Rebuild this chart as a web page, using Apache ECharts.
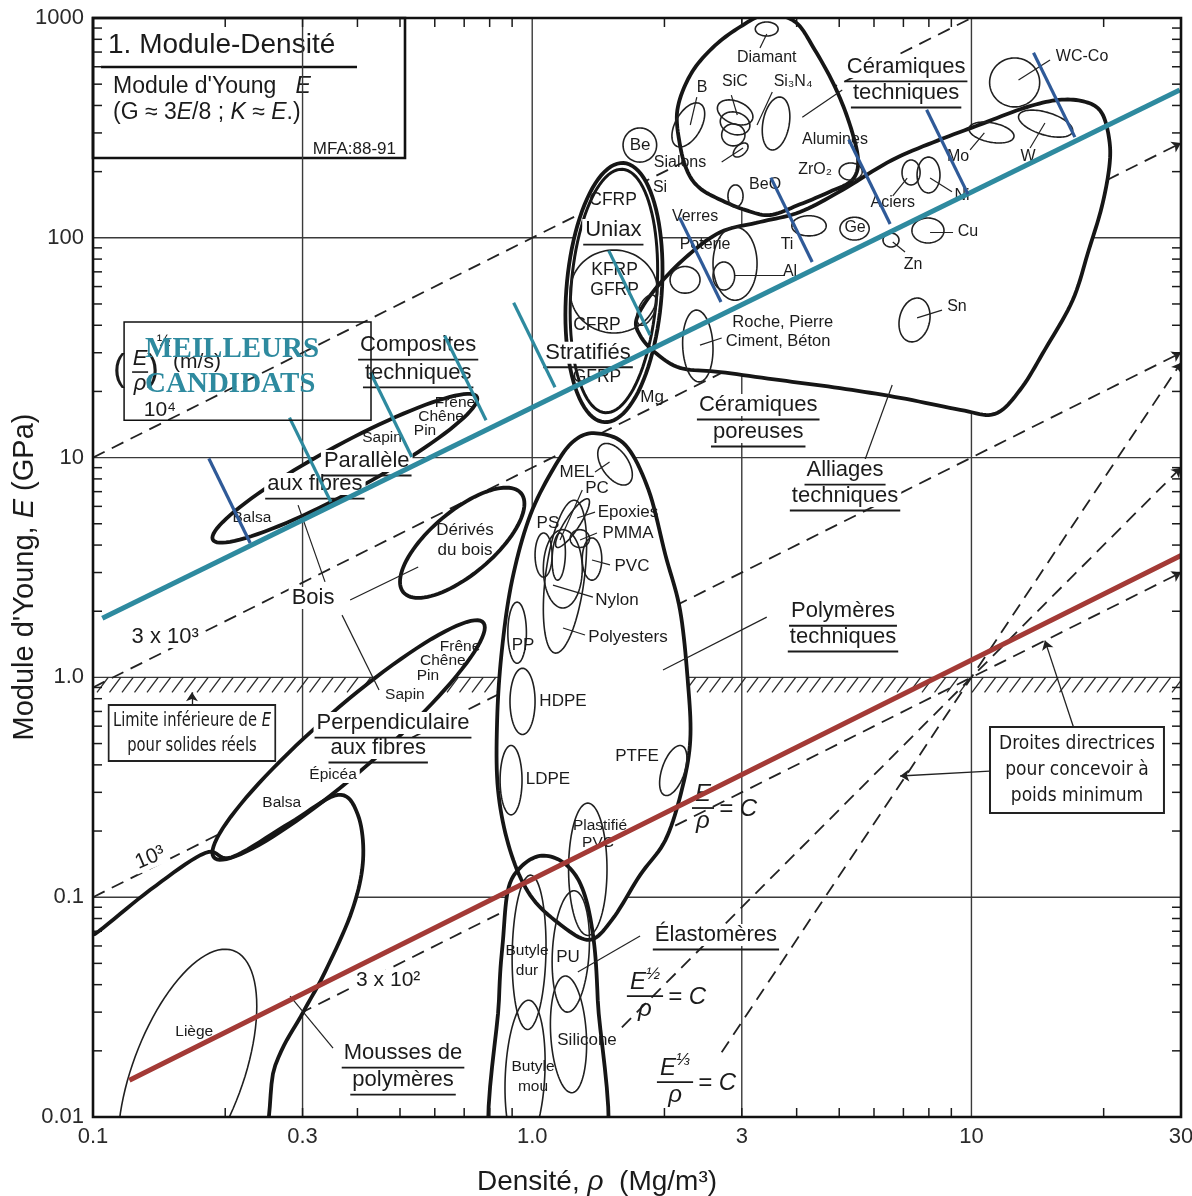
<!DOCTYPE html>
<html>
<head>
<meta charset="utf-8">
<title>Module-Densité</title>
<script src="https://cdn.jsdelivr.net/npm/echarts@6.0.0/dist/echarts.min.js"></script>
<style>
html, body { margin: 0; padding: 0; background: #fff; }
#chart { width: 1192px; height: 1196px; }
</style>
</head>
<body>
<div id="chart"></div>
<script>
// ---------- Axes: density ρ (Mg/m³) vs Young's modulus E (GPa), log–log ----------
const X_RANGE = [0.1, 30];
const Y_RANGE = [0.01, 1000];
const X_TICKS = [0.1, 0.3, 1, 3, 10, 30];
const X_TICK_LABELS = ['0.1', '0.3', '1.0', '3', '10', '30'];
const Y_TICKS = [0.01, 0.1, 1, 10, 100, 1000];
const Y_TICK_LABELS = ['0.01', '0.1', '1.0', '10', '100', '1000'];
const X_GRID = [0.3, 1, 3, 10];
const Y_GRID = [0.1, 1, 10, 100];
const MINOR_STEPS = [2, 3, 4, 5, 6, 7, 8, 9];

// lower bound of E for real solids (hatched band), GPa
const LIMIT_BAND = [0.855, 1.0];

// design guide lines, endpoints [ρ, E]; last flag = arrow at the end
const GUIDE_LINES = [
  [[0.1, 10], [10, 1000], false],      // (E/ρ)^½ = 10⁴ m/s
  [[0.1, 0.9], [30, 270], true],       // 3 x 10³ m/s
  [[0.1, 0.1], [30, 30], true],        // 10³ m/s
  [[0.1, 0.01], [30, 3], true],        // E/ρ = C  (3 x 10² m/s)
  [[1.6, 0.0256], [30, 9], true],      // E^½/ρ = C
  [[2.7, 0.0197], [30, 27], true]      // E^⅓/ρ = C
];

// ---------- Material class envelopes ----------
// ellipses: [name, ρ range, E range, tilt in degrees (90 = upright, <90 rising, >90 falling)]
const ENVELOPE_ELLIPSES = [
  ['Bois parallèle aux fibres', [0.187, 0.75], [4.1, 19.5], 21],
  ['Bois perpendiculaire aux fibres', [0.187, 0.78], [0.148, 1.82], 20],
  ['Dérivés du bois', [0.5, 0.96], [2.3, 7.3], 45],
  ['Composites uniax', [1.19, 1.98], [14.5, 219], 80],
  ['Composites stratifiés', [1.22, 1.93], [16, 205], 80]
];
// free outlines, [ρ, E] points
const POLYMERS_ENV = [[1.40, 12.9], [1.63, 11.4], [1.84, 7.13], [2.01, 3.61], [2.17, 2.03], [2.26, 0.97],
  [2.29, 0.52], [2.19, 0.307], [2.01, 0.182], [1.76, 0.126], [1.52, 0.079], [1.35, 0.064], [1.16, 0.075],
  [0.99, 0.102], [0.89, 0.164], [0.836, 0.307], [0.832, 0.64], [0.853, 1.33], [0.90, 2.77], [0.99, 5.48],
  [1.13, 9.25], [1.25, 12.0]];
const ELASTOMERS_ENV = [[0.823, 0.006], [0.84, 0.034], [0.858, 0.064], [0.881, 0.108], [0.938, 0.136],
  [1.04, 0.154], [1.17, 0.145], [1.29, 0.114], [1.37, 0.071], [1.41, 0.034], [1.44, 0.006]];
const FOAMS_ENV = [[0.094, 0.006], [0.094, 0.066], [0.101, 0.068], [0.135, 0.108], [0.18, 0.159],
  [0.207, 0.152], [0.281, 0.218], [0.361, 0.292], [0.401, 0.237], [0.412, 0.148], [0.389, 0.087],
  [0.338, 0.046], [0.301, 0.030], [0.26, 0.0172], [0.222, 0.006]];
const CERAMICS_ENV = [[2.14, 381], [2.29, 550], [2.57, 730], [2.97, 910], [3.42, 1040], [3.97, 960],
  [4.4, 715], [4.89, 486], [5.29, 326], [5.52, 226], [5.35, 183], [4.76, 162], [4.07, 142], [3.48, 127],
  [3.05, 134], [2.68, 149], [2.41, 168], [2.26, 199], [2.17, 264]];
const ALLOYS_ENV = [[1.73, 43], [1.9, 58], [2.23, 81], [2.68, 106], [3.3, 118], [4.07, 131], [5.08, 165],
  [6.6, 226], [8.57, 282], [10.4, 326], [13.2, 390], [15.8, 424], [18.2, 415], [19.8, 370], [20.6, 279],
  [20.6, 210], [19.8, 138], [18.5, 88], [17, 52], [14.7, 31], [12.9, 20.3], [11.3, 15.8], [9.42, 16.5],
  [6.88, 18.7], [5.02, 20.7], [3.67, 22.5], [2.68, 24.5], [2.17, 25.6], [1.9, 30.2], [1.76, 36]];

// ---------- Individual materials: [name, ρ range, E range, tilt°] ----------
const MATERIALS = [
  ['MEL', [1.41, 1.69], [7.5, 11.6], 120],
  ['PC', [1.13, 1.35], [3.9, 6.5], 30],
  ['Polyesters', [1.06, 1.33], [1.29, 6.4], 65],
  ['Nylon', [1.06, 1.30], [2.07, 4.7], 90],
  ['PS', [1.015, 1.11], [2.86, 4.54], 90],
  ['Epoxies', [1.11, 1.19], [2.77, 4.54], 80],
  ['PMMA', [1.22, 1.35], [3.9, 4.7], 90],
  ['PVC', [1.30, 1.44], [2.77, 4.31], 90],
  ['PP', [0.88, 0.97], [1.16, 2.2], 90],
  ['HDPE', [0.89, 1.015], [0.55, 1.1], 90],
  ['LDPE', [0.845, 0.948], [0.237, 0.49], 90],
  ['PTFE', [1.95, 2.25], [0.29, 0.49], 60],
  ['PVC plastifié', [1.21, 1.48], [0.067, 0.268], 90],
  ['Butyle dur', [0.90, 1.075], [0.025, 0.126], 85],
  ['Butyle mou', [0.867, 1.07], [0.0071, 0.034], 80],
  ['PU', [1.11, 1.35], [0.03, 0.107], 80],
  ['Silicone', [1.10, 1.33], [0.0129, 0.0438], 100],
  ['Liège', [0.114, 0.236], [0.0042, 0.058], 57],
  ['KFRP / GFRP', [1.22, 1.93], [36.9, 88], 90],
  ['Diamant', [3.22, 3.63], [828, 959], 90],
  ['B', [2.08, 2.47], [259, 411], 60],
  ['SiC', [2.64, 3.18], [326, 424], 110],
  ['SiC (2)', [2.68, 3.13], [294, 374], 100],
  ['SiC (3)', [2.7, 3.05], [262, 330], 90],
  ['Sialons', [2.87, 3.1], [233, 270], 60],
  ['Si₃N₄', [3.34, 3.86], [251, 437], 75],
  ['ZrO₂', [5.0, 5.64], [183, 219], 90],
  ['Be', [1.61, 1.92], [221, 316], 90],
  ['BeO', [2.79, 3.02], [138, 174], 90],
  ['Verres', [2.06, 2.41], [56, 74], 90],
  ['Poterie', [2.58, 3.25], [52, 112], 90],
  ['Roche, Ciment', [2.2, 2.58], [22.1, 46.9], 95],
  ['Al', [2.58, 2.89], [57.9, 77.6], 90],
  ['Mg', [1.73, 1.92], [40, 55], 60],
  ['Ti', [3.9, 4.67], [102, 126], 90],
  ['Ge', [5.02, 5.85], [97.7, 124], 90],
  ['Zn', [6.29, 6.84], [90.8, 105], 90],
  ['Cu', [7.32, 8.66], [94.7, 123], 90],
  ['Aciers', [6.95, 7.64], [174, 226], 90],
  ['Ni', [7.52, 8.48], [160, 233], 90],
  ['Mo', [9.87, 12.5], [270, 336], 110],
  ['W', [12.8, 17], [287, 381], 120],
  ['WC-Co', [11, 14.3], [394, 658], 90],
  ['Sn', [6.84, 8.05], [33.6, 53.2], 80]
];

// leader lines from names to their materials, [ρ, E] ends
const LEADERS = [
  [[0.293, 6.08], [0.3375, 2.72]], [[0.369, 1.92], [0.448, 0.876]], [[0.385, 2.25], [0.55, 3.18]],
  [[0.352, 0.0206], [0.281, 0.0355]], [[3.42, 1.88], [1.985, 1.08]], [[5.72, 9.75], [6.6, 21.4]],
  [[1.76, 0.0666], [1.27, 0.0457]], [[2.41, 32.5], [2.7, 35]], [[2.89, 67.7], [3.76, 67.7]],
  [[8.05, 106], [9.08, 106]], [[7.52, 43.2], [8.57, 46.9]], [[6.62, 95.7], [7.06, 86.2]],
  [[12.8, 522], [15.1, 644]], [[14.7, 333], [13.6, 256]], [[10.7, 300], [9.93, 251]],
  [[7.14, 187], [6.62, 155]], [[8.05, 187], [9.03, 162]], [[5.08, 470], [4.12, 354]],
  [[3.42, 846], [3.3, 730]], [[2.37, 437], [2.29, 326]], [[2.84, 446], [2.93, 362]],
  [[3.52, 461], [3.25, 326]], [[2.7, 221], [3.02, 256]], [[1.39, 8.6], [1.5, 9.55]],
  [[1.3, 7.12], [1.157, 4.22]], [[1.39, 5.65], [1.265, 5.31]], [[1.404, 4.54], [1.285, 4.22]],
  [[1.503, 3.25], [1.368, 3.42]], [[1.375, 2.32], [1.115, 2.63]], [[1.319, 1.559], [1.175, 1.678]]
];
const ARROWS = [
  [[0.168, 0.72], [0.168, 0.855]],
  [[11.0, 0.375], [6.88, 0.356]],
  [[17.1, 0.589], [14.7, 1.47]]
];

// ---------- Highlighted selection line and its hatch marks ----------
const TEAL_LINE = [[0.105, 1.86], [29.8, 470]];
const RED_LINE = [[0.121, 0.0147], [30, 3.59]];
const SELECTION_MARKS = [[0.228, 4.09, 'n'], [0.348, 6.28, 't'], [0.532, 10.07, 't'], [0.785, 14.8, 't'],
  [1.127, 20.9, 't'], [1.855, 36.1, 't'], [2.69, 51, 'n'], [4.34, 77.6, 'n'], [6.53, 115.6, 'n'],
  [9.82, 158, 'n'], [17.2, 287, 'n']];

// ---------- Text annotations: [text, ρ, E, size, flags] (u underline, b blank background, r rotated) ----------
const LABELS = [
  ['Composites', 0.55, 32.5, 22, 'ub'], ['techniques', 0.55, 24.3, 22, 'ub'],
  ['Parallèle', 0.42, 9.65, 22, 'ub'], ['aux fibres', 0.32, 7.58, 22, 'ub'],
  ['Bois', 0.317, 2.30, 22, 'b'],
  ['Perpendiculaire', 0.482, 0.62, 22, 'ub'], ['aux fibres', 0.446, 0.4775, 22, 'ub'],
  ['Mousses de', 0.508, 0.01955, 22, 'ub'], ['polymères', 0.508, 0.01473, 22, 'ub'],
  ['Polymères', 5.1, 2.0, 22, 'ub'], ['techniques', 5.1, 1.527, 22, 'ub'],
  ['Alliages', 5.155, 8.78, 22, 'ub'], ['techniques', 5.155, 6.69, 22, 'ub'],
  ['Céramiques', 3.27, 17.35, 22, 'ub'], ['poreuses', 3.27, 13.08, 22, 'ub'],
  ['Élastomères', 2.62, 0.0673, 22, 'ub'],
  ['Céramiques', 7.1, 599, 22, 'ub'], ['techniques', 7.1, 456, 22, 'ub'],
  ['Uniax', 1.53, 108.5, 22, 'ub'], ['Stratifiés', 1.34, 30, 22, 'ub'],
  ['Frêne', 0.667, 17.7, 15.5, ''], ['Chêne', 0.62, 15.3, 15.5, ''], ['Pin', 0.57, 13.2, 15.5, ''],
  ['Sapin', 0.455, 12.3, 15.5, ''], ['Balsa', 0.23, 5.31, 15.5, ''],
  ['Dérivés', 0.703, 4.68, 17, ''], ['du bois', 0.703, 3.80, 17, ''],
  ['Frêne', 0.685, 1.375, 15.5, ''], ['Chêne', 0.626, 1.187, 15.5, ''], ['Pin', 0.579, 1.015, 15.5, ''],
  ['Sapin', 0.513, 0.832, 15.5, ''], ['Épicéa', 0.352, 0.36, 15.5, 'b'], ['Balsa', 0.269, 0.268, 15.5, ''],
  ['Liège', 0.17, 0.0244, 15.5, ''],
  ['MEL', 1.265, 8.6, 17, ''], ['PC', 1.404, 7.27, 17, ''], ['PS', 1.086, 5.04, 17, ''],
  ['Epoxies', 1.652, 5.65, 17, ''], ['PMMA', 1.652, 4.54, 17, ''], ['PVC', 1.687, 3.21, 17, ''],
  ['Nylon', 1.56, 2.25, 17, ''], ['Polyesters', 1.652, 1.527, 17, ''], ['PP', 0.953, 1.404, 17, ''],
  ['HDPE', 1.175, 0.781, 17, ''], ['LDPE', 1.086, 0.345, 17, ''], ['PTFE', 1.732, 0.4388, 17, ''],
  ['Plastifié', 1.427, 0.2109, 15.5, ''], ['PVC', 1.412, 0.1765, 15.5, ''],
  ['Butyle', 0.973, 0.0569, 15.5, ''], ['dur', 0.973, 0.0462, 15.5, ''], ['PU', 1.206, 0.0534, 17, ''],
  ['Silicone', 1.333, 0.0224, 17, ''], ['Butyle', 1.004, 0.01689, 15.5, ''], ['mou', 1.004, 0.0137, 15.5, ''],
  ['Roche, Pierre', 3.72, 41.4, 16.5, ''], ['Ciment, Béton', 3.63, 33.6, 16.5, ''], ['Mg', 1.874, 18.87, 17, ''],
  ['CFRP', 1.528, 148.6, 17.5, ''], ['KFRP', 1.54, 71.4, 17.5, ''], ['GFRP', 1.54, 57.9, 17.5, ''],
  ['CFRP', 1.404, 40.1, 17.5, ''], ['GFRP', 1.404, 23.3, 17.5, ''],
  ['Diamant', 3.42, 658, 16, ''], ['B', 2.435, 480, 16, ''], ['SiC', 2.894, 511, 16, ''],
  ['Si₃N₄', 3.925, 511, 16, ''], ['Alumines', 4.89, 279, 16, ''], ['ZrO₂', 4.405, 203.5, 16, ''],
  ['Be', 1.76, 264, 17, ''], ['Sialons', 2.17, 221, 16, ''], ['Si', 1.954, 168.5, 16, ''],
  ['BeO', 3.39, 174, 16, ''], ['Verres', 2.348, 124.4, 16, ''], ['Poterie', 2.474, 92.7, 16, ''],
  ['Ti', 3.803, 92.7, 16, ''], ['Al', 3.864, 69.9, 16, ''], ['Ge', 5.433, 110.8, 16, ''],
  ['Zn', 7.36, 75.2, 16, ''], ['Cu', 9.82, 106.3, 16, ''], ['Aciers', 6.62, 144, 16, ''],
  ['Ni', 9.52, 155, 16, ''], ['Mo', 9.32, 233, 16, ''], ['W', 13.45, 233, 16, ''],
  ['WC-Co', 17.86, 665, 16, ''], ['Sn', 9.27, 48.4, 16, ''],
  ['3 x 10³', 0.146, 1.527, 22, 'b'], ['10³', 0.135, 0.151, 21, 'br'], ['3 x 10²', 0.47, 0.042, 21, 'b'],
  ['10⁴', 0.142, 16.5, 21, '']
];
// E^n/ρ = C formulas: [exponent, ρ, E] at the fraction bar centre
const FORMULAS = [['', 2.448, 0.2545], ['½', 1.806, 0.0355], ['⅓', 2.114, 0.01442]];
const SPEED_LABEL_AT = [0.128, 24.5];
const LIMIT_NOTE_AT = [0.168, 0.558];
const GUIDE_NOTE_AT = [17.39, 0.379];
const CANDIDATES_BOX = [[0.1177, 41.4], [0.4295, 14.8]];
const CANDIDATES_TEXT_AT = [[0.1314, 30.9], [0.1314, 21.4]];

// ---------- styles ----------
const SANS = '"Liberation Sans", Arial, sans-serif';
const NARROW = '"Liberation Sans Narrow", "DejaVu Sans Condensed", sans-serif';
const SERIF = '"Liberation Serif", "Times New Roman", serif';
const INK = '#1b1b1b';
const TEAL = '#2e8a9f';
const NAVY = '#2f5a98';
const RED = '#a33a36';

const LOG = Math.log10;
const MCTX = document.createElement('canvas').getContext('2d');
function textW(font, s) { MCTX.font = font; return MCTX.measureText(s).width; }
function pt(api, p) { return api.coord([LOG(p[0]), LOG(p[1])]); }

function ellipsePts(api, rho, E, tilt) {
  const x0 = LOG(rho[0]), x1 = LOG(rho[1]), y0 = LOG(E[0]), y1 = LOG(E[1]);
  const cx = (x0 + x1) / 2, rx = (x1 - x0) / 2, cy = (y0 + y1) / 2, ry = (y1 - y0) / 2;
  const d = tilt * Math.PI / 180, out = [];
  for (let k = 0; k < 96; k++) {
    const t = 2 * Math.PI * k / 96;
    out.push(api.coord([cx + rx * Math.cos(t), cy + ry * Math.cos(t - d)]));
  }
  return out;
}
// closed Catmull–Rom curve through pixel points
function smoothClosed(P) {
  const out = [], n = P.length, seg = 10;
  for (let i = 0; i < n; i++) {
    const p0 = P[(i - 1 + n) % n], p1 = P[i], p2 = P[(i + 1) % n], p3 = P[(i + 2) % n];
    for (let s = 0; s < seg; s++) {
      const t = s / seg, t2 = t * t, t3 = t2 * t;
      out.push([0, 1].map(k => 0.5 * (2 * p1[k] + (-p0[k] + p2[k]) * t +
        (2 * p0[k] - 5 * p1[k] + 4 * p2[k] - p3[k]) * t2 + (-p0[k] + 3 * p1[k] - 3 * p2[k] + p3[k]) * t3)));
    }
  }
  return out;
}

const ENVELOPES = ENVELOPE_ELLIPSES.map(e => ({ kind: 'ellipse', rho: e[1], E: e[2], tilt: e[3] }))
  .concat([POLYMERS_ENV, ELASTOMERS_ENV, FOAMS_ENV, CERAMICS_ENV, ALLOYS_ENV].map(p => ({ kind: 'outline', pts: p })));

function envelopePts(api, e) {
  if (e.kind === 'ellipse') return ellipsePts(api, e.rho, e.E, e.tilt);
  return smoothClosed(e.pts.map(p => pt(api, p)));
}

function tickLabel(v, ticks, labels) {
  for (let i = 0; i < ticks.length; i++) if (Math.abs(LOG(ticks[i]) - v) < 1e-6) return labels[i];
  return '';
}

function txt(x, y, text, font, align, vAlign, extra) {
  return { type: 'text', x: x, y: y, style: Object.assign({
    text: text, font: font, fill: INK, align: align, verticalAlign: vAlign,
    textAlign: align, textVerticalAlign: vAlign
  }, extra || {}) };
}

function renderGrid(params, api) {
  const ch = [];
  const yb = LOG(Y_RANGE[0]), yt = LOG(Y_RANGE[1]), xl = LOG(X_RANGE[0]), xr = LOG(X_RANGE[1]);
  X_GRID.forEach(v => {
    const a = api.coord([LOG(v), yb]), b = api.coord([LOG(v), yt]);
    ch.push({ type: 'line', shape: { x1: a[0], y1: a[1], x2: b[0], y2: b[1] }, style: { stroke: '#3a3a3a', lineWidth: 1.4 } });
  });
  Y_GRID.forEach(v => {
    const a = api.coord([xl, LOG(v)]), b = api.coord([xr, LOG(v)]);
    ch.push({ type: 'line', shape: { x1: a[0], y1: a[1], x2: b[0], y2: b[1] }, style: { stroke: '#3a3a3a', lineWidth: 1.4 } });
  });
  return { type: 'group', children: ch };
}

function renderBand(params, api) {
  const left = api.coord([LOG(X_RANGE[0]), 0])[0], right = api.coord([LOG(X_RANGE[1]), 0])[0];
  const top = api.coord([0, LOG(LIMIT_BAND[1])])[1], bot = api.coord([0, LOG(LIMIT_BAND[0])])[1];
  const h = bot - top, ch = [];
  for (let x = left + 4; x < right - 2; x += 12.5) {
    const x2 = Math.min(x + h * 0.75, right);
    const y2 = bot - (x2 - x) / 0.75;
    ch.push({ type: 'line', shape: { x1: x, y1: bot, x2: x2, y2: y2 }, style: { stroke: '#2a2a2a', lineWidth: 1.3 } });
  }
  return { type: 'group', children: ch };
}

function renderMinorTicks(params, api) {
  const ch = [], len = 9;
  const xl = LOG(X_RANGE[0]), xr = LOG(X_RANGE[1]), yb = LOG(Y_RANGE[0]), yt = LOG(Y_RANGE[1]);
  const sty = { stroke: INK, lineWidth: 1.5 };
  for (let dec = -1; dec <= 1; dec++) MINOR_STEPS.forEach(m => {
    const v = m * Math.pow(10, dec);
    if (v <= X_RANGE[0] || v >= X_RANGE[1]) return;
    const b = api.coord([LOG(v), yb]), t = api.coord([LOG(v), yt]);
    ch.push({ type: 'line', shape: { x1: b[0], y1: b[1], x2: b[0], y2: b[1] - len }, style: sty });
    ch.push({ type: 'line', shape: { x1: t[0], y1: t[1], x2: t[0], y2: t[1] + len }, style: sty });
  });
  for (let dec = -2; dec <= 2; dec++) MINOR_STEPS.forEach(m => {
    const v = m * Math.pow(10, dec);
    const l = api.coord([xl, LOG(v)]), r = api.coord([xr, LOG(v)]);
    ch.push({ type: 'line', shape: { x1: l[0], y1: l[1], x2: l[0] + len, y2: l[1] }, style: sty });
    ch.push({ type: 'line', shape: { x1: r[0], y1: r[1], x2: r[0] - len, y2: r[1] }, style: sty });
  });
  return { type: 'group', children: ch };
}

function fractionEls(cx, cy, sup, size) {
  const fI = 'italic ' + size + 'px ' + SANS;
  const fS = 'italic ' + Math.round(size * 0.72) + 'px ' + SANS;
  const wE = textW(fI, 'E'), wS = sup ? textW(fS, sup) : 0;
  const wN = wE + wS;
  const half = Math.max(wN, textW(fI, 'ρ')) / 2 + 3;
  const els = [];
  els.push(txt(cx - wN / 2, cy - 2, 'E', fI, 'left', 'bottom'));
  if (sup) els.push(txt(cx - wN / 2 + wE, cy - size * 0.55, sup, fS, 'left', 'bottom'));
  els.push({ type: 'line', shape: { x1: cx - half, y1: cy, x2: cx + half, y2: cy }, style: { stroke: INK, lineWidth: 1.8 } });
  els.push(txt(cx, cy + 1, 'ρ', fI, 'center', 'top'));
  els.push(txt(cx + half + 5, cy + 1, '= C', fI, 'left', 'middle'));
  return els;
}

function renderLabels(params, api) {
  const texts = [], marks = [];
  LABELS.forEach(spec => {
    const [t, rho, E, size, fl] = spec;
    const p = pt(api, [rho, E]);
    const font = size + 'px ' + SANS;
    const extra = fl.indexOf('b') >= 0 ? { backgroundColor: '#fff', padding: [0, 3] } : null;
    const el = txt(p[0], p[1], t, font, 'center', 'middle', extra);
    if (fl.indexOf('r') >= 0) el.rotation = 0.4;
    texts.push(el);
    if (fl.indexOf('u') >= 0) {
      const w = textW(font, t), yU = p[1] + size * 0.66;
      marks.push({ type: 'line', shape: { x1: p[0] - w / 2 - 2, y1: yU, x2: p[0] + w / 2 + 2, y2: yU }, style: { stroke: INK, lineWidth: 1.8 } });
    }
  });
  FORMULAS.forEach(f => {
    const p = pt(api, [f[1], f[2]]);
    fractionEls(p[0], p[1], f[0], 24).forEach(e => texts.push(e));
  });
  // (E/ρ)^½ (m/s)
  const s = pt(api, SPEED_LABEL_AT);
  const fI = 'italic 22px ' + SANS;
  texts.push(txt(s[0] - 21, s[1] - 2, '(', '36px ' + SANS, 'center', 'middle'));
  texts.push(txt(s[0] + 13, s[1] - 2, ')', '36px ' + SANS, 'center', 'middle'));
  texts.push(txt(s[0], s[1] - 2, 'E', fI, 'center', 'bottom'));
  marks.push({ type: 'line', shape: { x1: s[0] - 8, y1: s[1], x2: s[0] + 8, y2: s[1] }, style: { stroke: INK, lineWidth: 1.6 } });
  texts.push(txt(s[0], s[1] + 1, 'ρ', fI, 'center', 'top'));
  texts.push(txt(s[0] + 17, s[1] - 30, '½', '16px ' + SANS, 'left', 'middle'));
  texts.push(txt(s[0] + 33, s[1] - 10, '(m/s)', '21px ' + SANS, 'left', 'middle'));
  // boxed notes
  const ln = pt(api, LIMIT_NOTE_AT);
  const limit = txt(ln[0], ln[1], 'Limite inférieure de {i|E}\npour solides réels', '19px ' + NARROW, 'center', 'middle', {
    lineHeight: 25, backgroundColor: '#fff', borderColor: '#222', borderWidth: 2, padding: [2, 4],
    rich: { i: { font: 'italic 19px ' + NARROW, fill: INK } }
  });
  limit.scaleX = 0.86;
  texts.push(limit);
  const gn = pt(api, GUIDE_NOTE_AT);
  texts.push(txt(gn[0], gn[1], 'Droites directrices\npour concevoir à\npoids minimum', '19px ' + NARROW, 'center', 'middle', {
    lineHeight: 26, backgroundColor: '#fff', borderColor: '#222', borderWidth: 2, padding: [3, 8]
  }));
  return { type: 'group', children: texts.concat(marks) };
}

function renderSelectionMarks(params, api) {
  const a = pt(api, TEAL_LINE[0]), b = pt(api, TEAL_LINE[1]);
  const dx = b[0] - a[0], dy = b[1] - a[1], L = Math.hypot(dx, dy);
  const nx = dy / L, ny = -dx / L, len = 94;
  const ch = SELECTION_MARKS.map(m => {
    const f = pt(api, [m[0], m[1]]);
    return { type: 'line', shape: { x1: f[0], y1: f[1], x2: f[0] + nx * len, y2: f[1] + ny * len },
      style: { stroke: m[2] === 't' ? TEAL : NAVY, lineWidth: 3.2 } };
  });
  return { type: 'group', children: ch };
}

function renderCandidates(params, api) {
  const a = pt(api, CANDIDATES_BOX[0]), b = pt(api, CANDIDATES_BOX[1]);
  const font = 'bold 29px ' + SERIF;
  const t1 = pt(api, CANDIDATES_TEXT_AT[0]), t2 = pt(api, CANDIDATES_TEXT_AT[1]);
  return { type: 'group', children: [
    { type: 'rect', shape: { x: a[0], y: a[1], width: b[0] - a[0], height: b[1] - a[1] }, style: { fill: 'none', stroke: '#111', lineWidth: 1.5 } },
    txt(t1[0], t1[1], 'MEILLEURS', font, 'left', 'middle', { fill: TEAL }),
    txt(t2[0], t2[1], 'CANDIDATS', font, 'left', 'middle', { fill: TEAL })
  ] };
}

function renderFrame(params, api) {
  const a = api.coord([LOG(X_RANGE[0]), LOG(Y_RANGE[1])]), b = api.coord([LOG(X_RANGE[1]), LOG(Y_RANGE[0])]);
  return { type: 'rect', shape: { x: a[0], y: a[1], width: b[0] - a[0], height: b[1] - a[1] }, style: { fill: 'none', stroke: '#111', lineWidth: 2.6 } };
}

const ONE = [[0, 0]];
const toLine = p => p.map(q => [LOG(q[0]), LOG(q[1])]);

const option = {
  animation: false,
  backgroundColor: '#fff',
  grid: { left: 93, right: 11, top: 18, bottom: 79, containLabel: false, outerBoundsMode: 'none' },
  xAxis: {
    type: 'value', min: LOG(X_RANGE[0]), max: LOG(X_RANGE[1]),
    axisLine: { show: false }, axisTick: { show: false }, splitLine: { show: false },
    axisLabel: {
      customValues: X_TICKS.map(LOG), formatter: v => tickLabel(v, X_TICKS, X_TICK_LABELS),
      fontSize: 22, color: '#2a2a2a', fontFamily: 'Liberation Sans', margin: 9, showMinLabel: true, showMaxLabel: true
    },
    name: 'Densité, {i|ρ}  (Mg/m³)', nameLocation: 'middle', nameGap: 51,
    nameTextStyle: { fontSize: 28, color: INK, fontFamily: 'Liberation Sans', padding: [0, 80, 0, 0],
      rich: { i: { fontSize: 28, fontStyle: 'italic', color: INK, fontFamily: 'Liberation Sans' } } }
  },
  yAxis: {
    type: 'value', min: LOG(Y_RANGE[0]), max: LOG(Y_RANGE[1]),
    axisLine: { show: false }, axisTick: { show: false }, splitLine: { show: false },
    axisLabel: {
      customValues: Y_TICKS.map(LOG), formatter: v => tickLabel(v, Y_TICKS, Y_TICK_LABELS),
      fontSize: 22, color: '#2a2a2a', fontFamily: 'Liberation Sans', margin: 9, showMinLabel: true, showMaxLabel: true
    }
  },
  graphic: [{
    type: 'text', x: 25, y: 577, rotation: Math.PI / 2, silent: true,
    style: { text: "Module d'Young, {i|E} (GPa)", font: '29px ' + SANS, fill: INK,
      align: 'center', textAlign: 'center', verticalAlign: 'middle', textVerticalAlign: 'middle',
      rich: { i: { font: 'italic 29px ' + SANS, fill: INK } } }
  }, {
    type: 'group', z: 40, silent: true,
    children: [
      { type: 'rect', shape: { x: 93, y: 18, width: 312, height: 140 }, style: { fill: '#fff', stroke: '#111', lineWidth: 2.6 } },
      { type: 'text', x: 108, y: 45, style: { text: '1. Module-Densité', font: '28px ' + SANS, fill: INK, verticalAlign: 'middle', textVerticalAlign: 'middle' } },
      { type: 'line', shape: { x1: 101, y1: 67, x2: 357, y2: 67 }, style: { stroke: '#111', lineWidth: 2.6 } },
      { type: 'text', x: 113, y: 87, style: { text: "Module d'Young   {i|E}", font: '23px ' + SANS, fill: INK, verticalAlign: 'middle', textVerticalAlign: 'middle',
        rich: { i: { font: 'italic 23px ' + SANS, fill: INK } } } },
      { type: 'text', x: 113, y: 113, style: { text: '(G ≈ 3{i|E}/8 ; {i|K} ≈ {i|E}.)', font: '23px ' + SANS, fill: INK, verticalAlign: 'middle', textVerticalAlign: 'middle',
        rich: { i: { font: 'italic 23px ' + SANS, fill: INK } } } },
      { type: 'text', x: 396, y: 149, style: { text: 'MFA:88-91', font: '17px ' + SANS, fill: INK, align: 'right', textAlign: 'right', verticalAlign: 'middle', textVerticalAlign: 'middle' } }
    ]
  }],
  series: [
    { type: 'custom', z: 1, silent: true, data: ONE, renderItem: renderGrid },
    { type: 'custom', z: 1, silent: true, data: ONE, renderItem: renderBand },
    {
      type: 'lines', coordinateSystem: 'cartesian2d', z: 2, silent: true,
      lineStyle: { color: '#222', width: 1.8, type: [13, 8], opacity: 1 },
      symbolSize: 9,
      data: GUIDE_LINES.map(g => ({ coords: toLine([g[0], g[1]]), symbol: ['none', g[2] ? 'arrow' : 'none'] }))
    },
    {
      type: 'custom', z: 3, silent: true, clip: true, data: ENVELOPES.map(() => [0, 0]),
      renderItem: (params, api) => ({ type: 'polygon', shape: { points: envelopePts(api, ENVELOPES[params.dataIndex]) }, style: { fill: '#fff', stroke: null } })
    },
    {
      type: 'custom', z: 4, silent: true, clip: true, data: ENVELOPES.map(() => [0, 0]),
      renderItem: (params, api) => ({ type: 'polygon', shape: { points: envelopePts(api, ENVELOPES[params.dataIndex]) },
        style: { fill: 'none', stroke: '#161616', lineWidth: params.dataIndex === 4 ? 3 : 3.8 } })
    },
    {
      type: 'custom', z: 5, silent: true, clip: true, data: MATERIALS.map(() => [0, 0]),
      renderItem: (params, api) => {
        const m = MATERIALS[params.dataIndex];
        return { type: 'polygon', shape: { points: ellipsePts(api, m[1], m[2], m[3]) }, style: { fill: 'none', stroke: '#202020', lineWidth: 1.6 } };
      }
    },
    {
      type: 'lines', coordinateSystem: 'cartesian2d', z: 5, silent: true,
      lineStyle: { color: '#222', width: 1.2, opacity: 1 },
      data: LEADERS.map(l => ({ coords: toLine(l) }))
    },
    {
      type: 'lines', coordinateSystem: 'cartesian2d', z: 5, silent: true,
      symbol: ['none', 'arrow'], symbolSize: 9,
      lineStyle: { color: '#222', width: 1.3, opacity: 1 },
      data: ARROWS.map(l => ({ coords: toLine(l) }))
    },
    { type: 'custom', z: 6, silent: true, data: ONE, renderItem: renderLabels },
    { type: 'custom', z: 7, silent: true, data: ONE, renderItem: renderMinorTicks },
    {
      type: 'lines', coordinateSystem: 'cartesian2d', z: 20, silent: true,
      lineStyle: { color: TEAL, width: 5, opacity: 1 },
      data: [{ coords: toLine(TEAL_LINE) }]
    },
    {
      type: 'lines', coordinateSystem: 'cartesian2d', z: 20, silent: true,
      lineStyle: { color: RED, width: 5, opacity: 1 },
      data: [{ coords: toLine(RED_LINE) }]
    },
    { type: 'custom', z: 21, silent: true, data: ONE, renderItem: renderSelectionMarks },
    { type: 'custom', z: 22, silent: true, data: ONE, renderItem: renderCandidates },
    { type: 'custom', z: 30, silent: true, data: ONE, renderItem: renderFrame }
  ]
};

const chart = echarts.init(document.getElementById('chart'));
chart.setOption(option);
</script>
</body>
</html>
